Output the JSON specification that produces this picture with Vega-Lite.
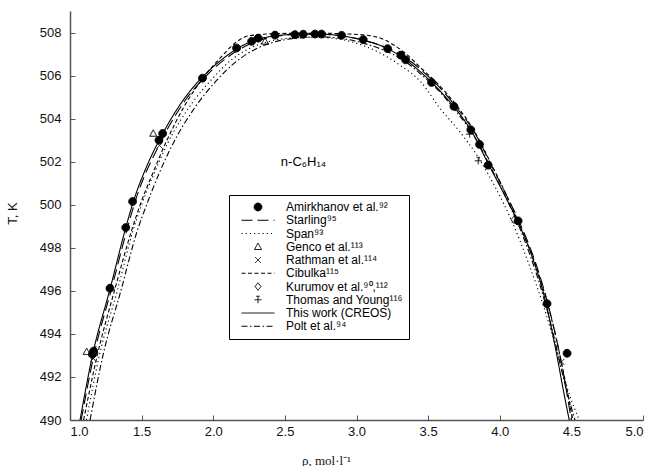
{
  "$schema": "https://vega.github.io/schema/vega-lite/v6.json",
  "width": 573,
  "height": 409,
  "autosize": "none",
  "padding": {"left": 70, "top": 11, "right": 12, "bottom": 46},
  "config": {
    "font": "Liberation Sans",
    "view": {"stroke": null},
    "axis": {"grid": false, "domainColor": "#555", "domainWidth": 1.5, "tickColor": "#555", "tickWidth": 1, "labelColor": "#111", "labelFont": "Liberation Sans", "labelFontSize": 13, "titleColor": "#111", "titleFontWeight": "normal"}
  },
  "datasets": {
    "curves": [
      {"series": "This work (CREOS)", "rho": 1.070, "T": 490.0},
      {"series": "This work (CREOS)", "rho": 1.160, "T": 493.1},
      {"series": "This work (CREOS)", "rho": 1.280, "T": 496.1},
      {"series": "This work (CREOS)", "rho": 1.390, "T": 498.95},
      {"series": "This work (CREOS)", "rho": 1.440, "T": 500.1},
      {"series": "This work (CREOS)", "rho": 1.530, "T": 501.7},
      {"series": "This work (CREOS)", "rho": 1.635, "T": 503.15},
      {"series": "This work (CREOS)", "rho": 1.800, "T": 504.95},
      {"series": "This work (CREOS)", "rho": 1.950, "T": 506.1},
      {"series": "This work (CREOS)", "rho": 2.100, "T": 506.95},
      {"series": "This work (CREOS)", "rho": 2.200, "T": 507.38},
      {"series": "This work (CREOS)", "rho": 2.310, "T": 507.68},
      {"series": "This work (CREOS)", "rho": 2.450, "T": 507.86},
      {"series": "This work (CREOS)", "rho": 2.600, "T": 507.92},
      {"series": "This work (CREOS)", "rho": 2.750, "T": 507.92},
      {"series": "This work (CREOS)", "rho": 2.900, "T": 507.84},
      {"series": "This work (CREOS)", "rho": 3.050, "T": 507.64},
      {"series": "This work (CREOS)", "rho": 3.200, "T": 507.3},
      {"series": "This work (CREOS)", "rho": 3.330, "T": 506.8},
      {"series": "This work (CREOS)", "rho": 3.450, "T": 506.15},
      {"series": "This work (CREOS)", "rho": 3.560, "T": 505.45},
      {"series": "This work (CREOS)", "rho": 3.680, "T": 504.55},
      {"series": "This work (CREOS)", "rho": 3.800, "T": 503.45},
      {"series": "This work (CREOS)", "rho": 3.920, "T": 501.9},
      {"series": "This work (CREOS)", "rho": 4.030, "T": 500.5},
      {"series": "This work (CREOS)", "rho": 4.130, "T": 499.15},
      {"series": "This work (CREOS)", "rho": 4.220, "T": 497.7},
      {"series": "This work (CREOS)", "rho": 4.320, "T": 495.5},
      {"series": "This work (CREOS)", "rho": 4.390, "T": 493.3},
      {"series": "This work (CREOS)", "rho": 4.455, "T": 491.0},
      {"series": "This work (CREOS)", "rho": 4.485, "T": 490.0},

      {"series": "Starling⁹⁵", "rho": 1.078, "T": 490.0},
      {"series": "Starling⁹⁵", "rho": 1.170, "T": 493.1},
      {"series": "Starling⁹⁵", "rho": 1.290, "T": 496.1},
      {"series": "Starling⁹⁵", "rho": 1.400, "T": 498.9},
      {"series": "Starling⁹⁵", "rho": 1.450, "T": 500.05},
      {"series": "Starling⁹⁵", "rho": 1.640, "T": 503.0},
      {"series": "Starling⁹⁵", "rho": 1.810, "T": 504.9},
      {"series": "Starling⁹⁵", "rho": 1.960, "T": 506.05},
      {"series": "Starling⁹⁵", "rho": 2.110, "T": 506.9},
      {"series": "Starling⁹⁵", "rho": 2.220, "T": 507.35},
      {"series": "Starling⁹⁵", "rho": 2.330, "T": 507.65},
      {"series": "Starling⁹⁵", "rho": 2.470, "T": 507.85},
      {"series": "Starling⁹⁵", "rho": 2.620, "T": 507.93},
      {"series": "Starling⁹⁵", "rho": 2.770, "T": 507.92},
      {"series": "Starling⁹⁵", "rho": 2.920, "T": 507.82},
      {"series": "Starling⁹⁵", "rho": 3.070, "T": 507.6},
      {"series": "Starling⁹⁵", "rho": 3.220, "T": 507.28},
      {"series": "Starling⁹⁵", "rho": 3.350, "T": 506.8},
      {"series": "Starling⁹⁵", "rho": 3.470, "T": 506.15},
      {"series": "Starling⁹⁵", "rho": 3.580, "T": 505.45},
      {"series": "Starling⁹⁵", "rho": 3.700, "T": 504.5},
      {"series": "Starling⁹⁵", "rho": 3.820, "T": 503.4},
      {"series": "Starling⁹⁵", "rho": 3.940, "T": 501.85},
      {"series": "Starling⁹⁵", "rho": 4.050, "T": 500.4},
      {"series": "Starling⁹⁵", "rho": 4.150, "T": 499.0},
      {"series": "Starling⁹⁵", "rho": 4.240, "T": 497.5},
      {"series": "Starling⁹⁵", "rho": 4.340, "T": 495.3},
      {"series": "Starling⁹⁵", "rho": 4.420, "T": 493.0},
      {"series": "Starling⁹⁵", "rho": 4.500, "T": 490.0},

      {"series": "Span⁹³", "rho": 1.115, "T": 490.0},
      {"series": "Span⁹³", "rho": 1.205, "T": 493.0},
      {"series": "Span⁹³", "rho": 1.330, "T": 496.0},
      {"series": "Span⁹³", "rho": 1.440, "T": 498.8},
      {"series": "Span⁹³", "rho": 1.500, "T": 500.0},
      {"series": "Span⁹³", "rho": 1.590, "T": 501.5},
      {"series": "Span⁹³", "rho": 1.685, "T": 502.9},
      {"series": "Span⁹³", "rho": 1.850, "T": 504.7},
      {"series": "Span⁹³", "rho": 2.000, "T": 505.9},
      {"series": "Span⁹³", "rho": 2.130, "T": 506.75},
      {"series": "Span⁹³", "rho": 2.250, "T": 507.25},
      {"series": "Span⁹³", "rho": 2.400, "T": 507.6},
      {"series": "Span⁹³", "rho": 2.550, "T": 507.75},
      {"series": "Span⁹³", "rho": 2.700, "T": 507.78},
      {"series": "Span⁹³", "rho": 2.850, "T": 507.72},
      {"series": "Span⁹³", "rho": 3.000, "T": 507.5},
      {"series": "Span⁹³", "rho": 3.150, "T": 507.1},
      {"series": "Span⁹³", "rho": 3.300, "T": 506.5},
      {"series": "Span⁹³", "rho": 3.450, "T": 505.7},
      {"series": "Span⁹³", "rho": 3.580, "T": 504.5},
      {"series": "Span⁹³", "rho": 3.720, "T": 503.4},
      {"series": "Span⁹³", "rho": 3.850, "T": 502.2},
      {"series": "Span⁹³", "rho": 3.970, "T": 500.8},
      {"series": "Span⁹³", "rho": 4.080, "T": 499.3},
      {"series": "Span⁹³", "rho": 4.200, "T": 497.3},
      {"series": "Span⁹³", "rho": 4.310, "T": 495.2},
      {"series": "Span⁹³", "rho": 4.400, "T": 493.2},
      {"series": "Span⁹³", "rho": 4.480, "T": 491.3},
      {"series": "Span⁹³", "rho": 4.555, "T": 490.0},

      {"series": "Cibulka¹¹⁵", "rho": 1.095, "T": 490.0},
      {"series": "Cibulka¹¹⁵", "rho": 1.190, "T": 493.0},
      {"series": "Cibulka¹¹⁵", "rho": 1.310, "T": 496.0},
      {"series": "Cibulka¹¹⁵", "rho": 1.430, "T": 498.8},
      {"series": "Cibulka¹¹⁵", "rho": 1.490, "T": 500.0},
      {"series": "Cibulka¹¹⁵", "rho": 1.580, "T": 501.5},
      {"series": "Cibulka¹¹⁵", "rho": 1.670, "T": 502.9},
      {"series": "Cibulka¹¹⁵", "rho": 1.800, "T": 504.6},
      {"series": "Cibulka¹¹⁵", "rho": 1.930, "T": 505.9},
      {"series": "Cibulka¹¹⁵", "rho": 2.060, "T": 506.9},
      {"series": "Cibulka¹¹⁵", "rho": 2.150, "T": 507.5},
      {"series": "Cibulka¹¹⁵", "rho": 2.250, "T": 507.85},
      {"series": "Cibulka¹¹⁵", "rho": 2.450, "T": 507.95},
      {"series": "Cibulka¹¹⁵", "rho": 2.700, "T": 507.97},
      {"series": "Cibulka¹¹⁵", "rho": 2.950, "T": 507.93},
      {"series": "Cibulka¹¹⁵", "rho": 3.100, "T": 507.85},
      {"series": "Cibulka¹¹⁵", "rho": 3.200, "T": 507.65},
      {"series": "Cibulka¹¹⁵", "rho": 3.260, "T": 507.42},
      {"series": "Cibulka¹¹⁵", "rho": 3.330, "T": 507.1},
      {"series": "Cibulka¹¹⁵", "rho": 3.450, "T": 506.35},
      {"series": "Cibulka¹¹⁵", "rho": 3.570, "T": 505.6},
      {"series": "Cibulka¹¹⁵", "rho": 3.700, "T": 504.6},
      {"series": "Cibulka¹¹⁵", "rho": 3.820, "T": 503.45},
      {"series": "Cibulka¹¹⁵", "rho": 3.940, "T": 501.9},
      {"series": "Cibulka¹¹⁵", "rho": 4.050, "T": 500.4},
      {"series": "Cibulka¹¹⁵", "rho": 4.150, "T": 498.9},
      {"series": "Cibulka¹¹⁵", "rho": 4.250, "T": 497.2},
      {"series": "Cibulka¹¹⁵", "rho": 4.350, "T": 495.0},
      {"series": "Cibulka¹¹⁵", "rho": 4.430, "T": 492.7},
      {"series": "Cibulka¹¹⁵", "rho": 4.510, "T": 490.0},

      {"series": "Polt et al.⁹⁴", "rho": 1.140, "T": 490.0},
      {"series": "Polt et al.⁹⁴", "rho": 1.230, "T": 493.0},
      {"series": "Polt et al.⁹⁴", "rho": 1.355, "T": 496.0},
      {"series": "Polt et al.⁹⁴", "rho": 1.470, "T": 498.8},
      {"series": "Polt et al.⁹⁴", "rho": 1.535, "T": 500.0},
      {"series": "Polt et al.⁹⁴", "rho": 1.625, "T": 501.5},
      {"series": "Polt et al.⁹⁴", "rho": 1.720, "T": 502.85},
      {"series": "Polt et al.⁹⁴", "rho": 1.870, "T": 504.5},
      {"series": "Polt et al.⁹⁴", "rho": 2.020, "T": 505.75},
      {"series": "Polt et al.⁹⁴", "rho": 2.170, "T": 506.7},
      {"series": "Polt et al.⁹⁴", "rho": 2.300, "T": 507.25},
      {"series": "Polt et al.⁹⁴", "rho": 2.450, "T": 507.6},
      {"series": "Polt et al.⁹⁴", "rho": 2.600, "T": 507.75},
      {"series": "Polt et al.⁹⁴", "rho": 2.750, "T": 507.8},
      {"series": "Polt et al.⁹⁴", "rho": 2.900, "T": 507.72},
      {"series": "Polt et al.⁹⁴", "rho": 3.050, "T": 507.5},
      {"series": "Polt et al.⁹⁴", "rho": 3.200, "T": 507.15},
      {"series": "Polt et al.⁹⁴", "rho": 3.330, "T": 506.7},
      {"series": "Polt et al.⁹⁴", "rho": 3.460, "T": 506.0},
      {"series": "Polt et al.⁹⁴", "rho": 3.580, "T": 505.25},
      {"series": "Polt et al.⁹⁴", "rho": 3.700, "T": 504.3},
      {"series": "Polt et al.⁹⁴", "rho": 3.820, "T": 503.2},
      {"series": "Polt et al.⁹⁴", "rho": 3.940, "T": 501.7},
      {"series": "Polt et al.⁹⁴", "rho": 4.060, "T": 500.1},
      {"series": "Polt et al.⁹⁴", "rho": 4.170, "T": 498.4},
      {"series": "Polt et al.⁹⁴", "rho": 4.270, "T": 496.5},
      {"series": "Polt et al.⁹⁴", "rho": 4.370, "T": 494.1},
      {"series": "Polt et al.⁹⁴", "rho": 4.450, "T": 491.8},
      {"series": "Polt et al.⁹⁴", "rho": 4.525, "T": 490.0}
    ],
    "points": [
      {"series": "Amirkhanov et al.⁹²", "rho": 1.156, "T": 493.05},
      {"series": "Amirkhanov et al.⁹²", "rho": 1.165, "T": 493.2},
      {"series": "Amirkhanov et al.⁹²", "rho": 1.279, "T": 496.12},
      {"series": "Amirkhanov et al.⁹²", "rho": 1.389, "T": 498.94},
      {"series": "Amirkhanov et al.⁹²", "rho": 1.437, "T": 500.15},
      {"series": "Amirkhanov et al.⁹²", "rho": 1.621, "T": 503.0},
      {"series": "Amirkhanov et al.⁹²", "rho": 1.647, "T": 503.31},
      {"series": "Amirkhanov et al.⁹²", "rho": 1.925, "T": 505.88},
      {"series": "Amirkhanov et al.⁹²", "rho": 2.163, "T": 507.28},
      {"series": "Amirkhanov et al.⁹²", "rho": 2.268, "T": 507.59},
      {"series": "Amirkhanov et al.⁹²", "rho": 2.314, "T": 507.74},
      {"series": "Amirkhanov et al.⁹²", "rho": 2.431, "T": 507.88},
      {"series": "Amirkhanov et al.⁹²", "rho": 2.570, "T": 507.9},
      {"series": "Amirkhanov et al.⁹²", "rho": 2.628, "T": 507.92},
      {"series": "Amirkhanov et al.⁹²", "rho": 2.710, "T": 507.93},
      {"series": "Amirkhanov et al.⁹²", "rho": 2.756, "T": 507.93},
      {"series": "Amirkhanov et al.⁹²", "rho": 2.896, "T": 507.87},
      {"series": "Amirkhanov et al.⁹²", "rho": 3.047, "T": 507.67},
      {"series": "Amirkhanov et al.⁹²", "rho": 3.217, "T": 507.25},
      {"series": "Amirkhanov et al.⁹²", "rho": 3.310, "T": 506.95},
      {"series": "Amirkhanov et al.⁹²", "rho": 3.343, "T": 506.73},
      {"series": "Amirkhanov et al.⁹²", "rho": 3.524, "T": 505.68},
      {"series": "Amirkhanov et al.⁹²", "rho": 3.680, "T": 504.57},
      {"series": "Amirkhanov et al.⁹²", "rho": 3.798, "T": 503.48},
      {"series": "Amirkhanov et al.⁹²", "rho": 3.859, "T": 502.8},
      {"series": "Amirkhanov et al.⁹²", "rho": 3.919, "T": 501.84},
      {"series": "Amirkhanov et al.⁹²", "rho": 4.128, "T": 499.25},
      {"series": "Amirkhanov et al.⁹²", "rho": 4.330, "T": 495.4},
      {"series": "Amirkhanov et al.⁹²", "rho": 4.470, "T": 493.1},
      {"series": "Genco et al.¹¹³", "rho": 1.116, "T": 493.17},
      {"series": "Genco et al.¹¹³", "rho": 1.581, "T": 503.31},
      {"series": "Genco et al.¹¹³", "rho": 2.361, "T": 507.59},
      {"series": "Rathman et al.¹¹⁴", "rho": 1.163, "T": 492.85},
      {"series": "Rathman et al.¹¹⁴", "rho": 1.625, "T": 502.75},
      {"series": "Rathman et al.¹¹⁴", "rho": 4.430, "T": 492.7},
      {"series": "Kurumov et al.⁹⁰,¹¹²", "rho": 4.100, "T": 499.3},
      {"series": "Thomas and Young¹¹⁶", "rho": 3.790, "T": 503.28},
      {"series": "Thomas and Young¹¹⁶", "rho": 3.850, "T": 502.04}
    ]
  },
  "layer": [
    {
      "data": {"name": "curves"},
      "mark": {"type": "line", "stroke": "black", "strokeWidth": 1.1, "interpolate": "monotone", "clip": true},
      "encoding": {
        "x": {"field": "rho", "type": "quantitative",
          "scale": {"domain": [1, 5], "nice": false, "zero": false},
          "axis": {
            "values": [1, 1.25, 1.5, 1.75, 2, 2.25, 2.5, 2.75, 3, 3.25, 3.5, 3.75, 4, 4.25, 4.5, 4.75, 5],
            "labelExpr": "datum.value % 0.5 === 0 ? format(datum.value, '.1f') : ''",
            "tickSize": {"condition": {"test": "datum.value % 0.5 !== 0", "value": -3}, "value": -5},
            "labelPadding": 10,
            "title": "ρ, mol·l⁻¹", "titleFont": "Liberation Serif", "titleFontSize": 13,
            "titleX": 256, "titleY": 34, "titleAlign": "center", "titleBaseline": "top"
          }
        },
        "y": {"field": "T", "type": "quantitative",
          "scale": {"domain": [490, 509], "nice": false, "zero": false},
          "axis": {
            "values": [490, 491, 492, 493, 494, 495, 496, 497, 498, 499, 500, 501, 502, 503, 504, 505, 506, 507, 508, 509],
            "labelExpr": "datum.value % 2 === 0 ? format(datum.value, 'd') : ''",
            "tickSize": {"condition": {"test": "datum.value % 2 !== 0", "value": -3}, "value": -5},
            "labelPadding": 14,
            "title": "T, K", "titleFont": "Liberation Sans", "titleFontSize": 13,
            "titleX": -58, "titleY": 202, "titleAngle": -90, "titleAlign": "center", "titleBaseline": "middle"
          }
        },
        "strokeDash": {"field": "series", "type": "nominal",
          "scale": {
            "domain": ["Amirkhanov et al.⁹²", "Starling⁹⁵", "Span⁹³", "Genco et al.¹¹³", "Rathman et al.¹¹⁴", "Cibulka¹¹⁵", "Kurumov et al.⁹⁰,¹¹²", "Thomas and Young¹¹⁶", "This work (CREOS)", "Polt et al.⁹⁴"],
            "range": [[1, 0], [11, 5], [1.2, 3], [1, 0], [1, 0], [4, 2.5], [1, 0], [1, 0], [1, 0], [6, 2.5, 1.5, 2.5]]
          }
        }
      }
    },
    {
      "data": {"name": "points"},
      "mark": {"type": "point", "filled": true, "stroke": "black", "strokeWidth": 1, "size": 100, "opacity": 1, "clip": true},
      "encoding": {
        "x": {"field": "rho", "type": "quantitative"},
        "y": {"field": "T", "type": "quantitative"},
        "fill": {"field": "series", "type": "nominal",
          "scale": {
            "domain": ["Amirkhanov et al.⁹²", "Starling⁹⁵", "Span⁹³", "Genco et al.¹¹³", "Rathman et al.¹¹⁴", "Cibulka¹¹⁵", "Kurumov et al.⁹⁰,¹¹²", "Thomas and Young¹¹⁶", "This work (CREOS)", "Polt et al.⁹⁴"],
            "range": ["black", "transparent", "transparent", "transparent", "transparent", "transparent", "transparent", "transparent", "transparent", "transparent"]
          }
        },
        "strokeDash": {"field": "series", "type": "nominal",
          "scale": {
            "domain": ["Amirkhanov et al.⁹²", "Starling⁹⁵", "Span⁹³", "Genco et al.¹¹³", "Rathman et al.¹¹⁴", "Cibulka¹¹⁵", "Kurumov et al.⁹⁰,¹¹²", "Thomas and Young¹¹⁶", "This work (CREOS)", "Polt et al.⁹⁴"],
            "range": [[1, 0], [11, 5], [1.2, 3], [1, 0], [1, 0], [4, 2.5], [1, 0], [1, 0], [1, 0], [6, 2.5, 1.5, 2.5]]
          }
        },
        "shape": {"field": "series", "type": "nominal",
          "scale": {
            "domain": ["Amirkhanov et al.⁹²", "Starling⁹⁵", "Span⁹³", "Genco et al.¹¹³", "Rathman et al.¹¹⁴", "Cibulka¹¹⁵", "Kurumov et al.⁹⁰,¹¹²", "Thomas and Young¹¹⁶", "This work (CREOS)", "Polt et al.⁹⁴"],
            "range": [
              "M0.78,0A0.78,0.78,0,1,1,-0.78,0A0.78,0.78,0,1,1,0.78,0Z",
              "M-3.3,0H3.3",
              "M-3.3,0H3.3",
              "M0,-0.75L0.7,0.55L-0.7,0.55Z",
              "M-0.6,-0.6L0.6,0.6M-0.6,0.6L0.6,-0.6",
              "M-3.3,0H3.3",
              "M0,-0.75L0.6,0L0,0.75L-0.6,0Z",
              "M-0.7,0H0.7M0,-0.7V0.7M-0.35,-0.7H0.35",
              "M-3.3,0H3.3",
              "M-3.3,0H3.3"
            ]
          },
          "legend": {
            "title": null, "orient": "none", "legendX": 159, "legendY": 184,
            "strokeColor": "black", "padding": 6, "symbolSize": 100, "symbolStrokeWidth": 1,
            "symbolStrokeColor": "black", "symbolOpacity": 1,
            "symbolOffset": 17, "labelOffset": 22, "rowPadding": 1.25,
            "labelFont": "Liberation Sans", "labelFontSize": 12, "labelColor": "black", "labelLimit": 300
          }
        }
      }
    },
    {
      "data": {"values": [{}]},
      "mark": {"type": "text", "text": "n-C₆H₁₄", "font": "Liberation Sans", "fontSize": 13, "color": "black", "align": "center", "baseline": "middle"},
      "encoding": {
        "x": {"datum": 2.63},
        "y": {"datum": 502.0}
      }
    }
  ]
}
